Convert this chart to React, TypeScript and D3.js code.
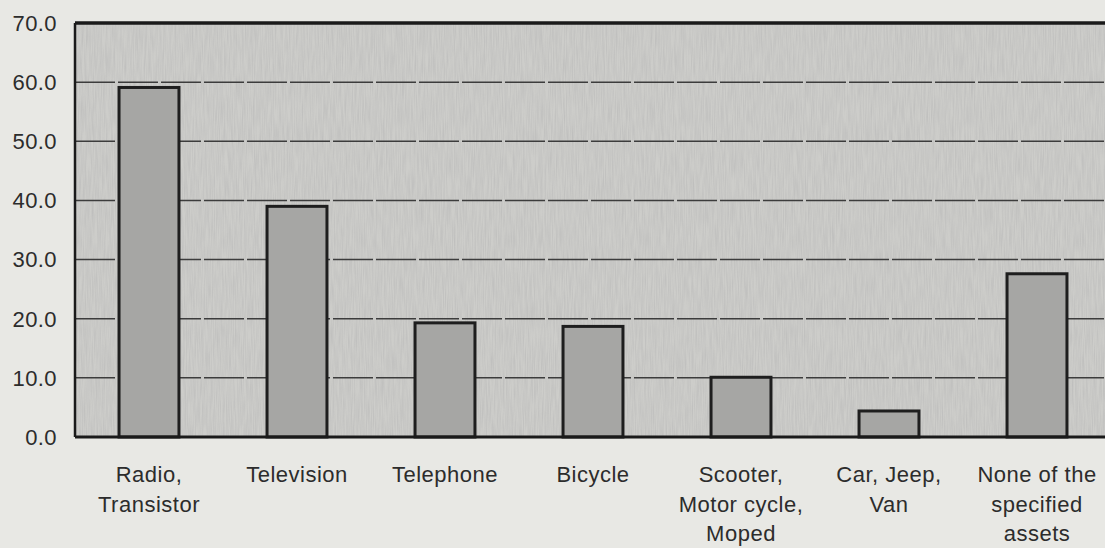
import React from "react";
import * as d3 from "d3";

const categories: string[][] = [
  ["Radio,", "Transistor"],
  ["Television"],
  ["Telephone"],
  ["Bicycle"],
  ["Scooter,", "Motor cycle,", "Moped"],
  ["Car, Jeep,", "Van"],
  ["None of the", "specified", "assets"],
];
const values: number[] = [59.1, 39.0, 19.3, 18.7, 10.1, 4.4, 27.6];
const yTicks: number[] = [0, 10, 20, 30, 40, 50, 60, 70];

const W = 1105;
const H = 548;
const left = 75;
const right = 1111;
const top = 23;
const bottom = 437;

export default function App() {
  const x = d3
    .scaleBand<number>()
    .domain(values.map((_, i) => i))
    .range([left, right])
    .paddingInner(0.595)
    .paddingOuter(0.2975);
  const y = d3.scaleLinear().domain([0, 70]).range([bottom, top]);
  const font = "Liberation Sans";

  return (
    <svg
      width={W}
      height={H}
      style={{ position: "absolute", left: 0, top: 0, display: "block" }}
    >
      <defs>
        <filter id="grain" x="0" y="0" width="100%" height="100%">
          <feTurbulence type="fractalNoise" baseFrequency="0.9 0.04" numOctaves={2} seed={3} />
          <feColorMatrix
            type="matrix"
            values="0 0 0 0 0.45  0 0 0 0 0.45  0 0 0 0 0.45  0 0 0 -1.4 1.0"
          />
          <feComposite in2="SourceGraphic" operator="in" />
        </filter>
      </defs>
      <rect x={0} y={0} width={W} height={H} fill="#e8e8e4" />
      <rect x={left} y={top} width={right - left} height={bottom - top} fill="#cdcdca" />
      <rect
        x={left}
        y={top}
        width={right - left}
        height={bottom - top}
        fill="#cdcdca"
        filter="url(#grain)"
        opacity={0.6}
      />
      {yTicks
        .filter((t) => t > 0 && t < 70)
        .map((t) => (
          <line
            key={t}
            x1={left}
            x2={right}
            y1={y(t)}
            y2={y(t)}
            stroke="#3c3c3c"
            strokeWidth={1.5}
            strokeDasharray="40 3"
          />
        ))}
      {values.map((v, i) => (
        <rect
          key={i}
          x={x(i)}
          y={y(v)}
          width={x.bandwidth()}
          height={bottom - y(v)}
          fill="#a6a6a4"
          stroke="#1e1e1e"
          strokeWidth={3}
        />
      ))}
      <line x1={left} x2={right} y1={top} y2={top} stroke="#1a1a1a" strokeWidth={3.5} />
      <line x1={left} x2={left} y1={top} y2={bottom} stroke="#1a1a1a" strokeWidth={2.5} />
      <line x1={left} x2={right} y1={bottom} y2={bottom} stroke="#1a1a1a" strokeWidth={3} />
      {yTicks.map((t) => (
        <text
          key={t}
          x={57}
          y={y(t)}
          dy="0.36em"
          textAnchor="end"
          fontFamily={font}
          fontSize={22}
          letterSpacing={0.4}
          fill="#2c2c2c"
        >
          {t.toFixed(1)}
        </text>
      ))}
      {categories.map((lines, i) => (
        <text
          key={i}
          x={(x(i) as number) + x.bandwidth() / 2}
          y={482}
          textAnchor="middle"
          fontFamily={font}
          fontSize={22}
          letterSpacing={0.5}
          fill="#2c2c2c"
        >
          {lines.map((ln, j) => (
            <tspan key={j} x={(x(i) as number) + x.bandwidth() / 2} y={482 + j * 29.5}>
              {ln}
            </tspan>
          ))}
        </text>
      ))}
    </svg>
  );
}
